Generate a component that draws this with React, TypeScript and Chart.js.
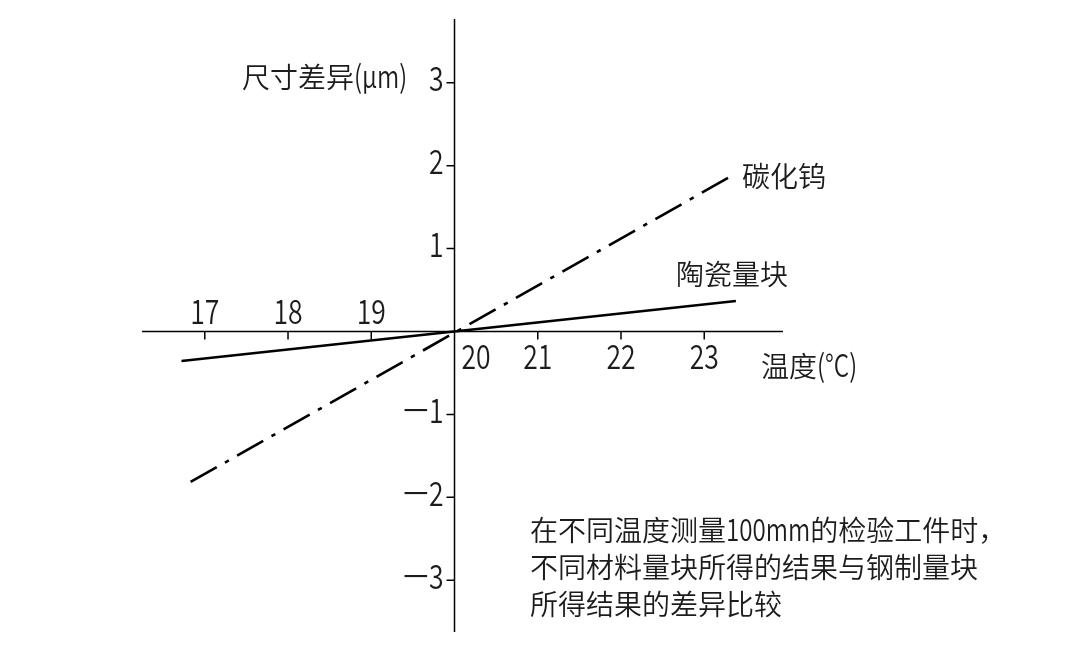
import React, { useEffect, useRef } from "react";
import { Chart, registerables } from "chart.js";

Chart.register(...registerables);

// ---- data ----
const temperatureTicks = [17, 18, 19, 20, 21, 22, 23];
const deviationTicks = [-3, -2, -1, 1, 2, 3];

const carbideName = "碳化钨";
const carbideTemps = [16.83, 23.29];
const carbideDiff = [-1.815, 1.855];

const ceramicName = "陶瓷量块";
const ceramicTemps = [16.72, 23.38];
const ceramicDiff = [-0.356, 0.368];

const yAxisTitle = "尺寸差异(μm)";
const xAxisTitle = "温度(°C)";
const captionLines = [
  "在不同温度测量100mm的检验工件时，",
  "不同材料量块所得的结果与钢制量块",
  "所得结果的差异比较",
];

const FONT = '"Noto Sans CJK SC", "Noto Sans", sans-serif';
const TEXT_COLOR = "#1c1c1c";

function drawMixed(
  ctx: CanvasRenderingContext2D,
  text: string,
  x: number,
  y: number,
  size: number,
  align: "left" | "center" | "right",
  latinSize: number = size
) {
  ctx.textAlign = "left";
  ctx.textBaseline = "alphabetic";
  ctx.fillStyle = TEXT_COLOR;
  const parts = Array.from(text).map((ch) => {
    const code = ch.codePointAt(0) || 0;
    const cjk = code >= 0x2e80;
    const s = ch === "−" ? 1.4 : cjk ? 1 : 0.78;
    const font = `350 ${cjk ? size : latinSize}px ${FONT}`;
    ctx.font = font;
    return { ch, s, font, w: ctx.measureText(ch).width * s };
  });
  const total = parts.reduce((a, p) => a + p.w, 0);
  let cx = align === "right" ? x - total : align === "center" ? x - total / 2 : x;
  for (const p of parts) {
    ctx.save();
    ctx.font = p.font;
    ctx.translate(cx, y);
    ctx.scale(p.s, 1);
    ctx.fillText(p.ch, 0, 0);
    ctx.restore();
    cx += p.w;
  }
}

const fmt = (v: number) => (v < 0 ? "−" + Math.abs(v) : String(v));

const axesPlugin = {
  id: "centerAxes",
  beforeDatasetsDraw(chart: any) {
    const { ctx, chartArea, scales } = chart;
    const xs = scales.x;
    const ys = scales.y;
    const x0 = xs.getPixelForValue(20);
    const y0 = ys.getPixelForValue(0);
    ctx.save();
    ctx.strokeStyle = "#000";
    ctx.lineWidth = 1.5;
    ctx.beginPath();
    ctx.moveTo(chartArea.left, y0);
    ctx.lineTo(chartArea.right, y0);
    ctx.moveTo(x0, chartArea.top);
    ctx.lineTo(x0, chartArea.bottom);
    for (const t of temperatureTicks) {
      if (t === 20) continue;
      const px = xs.getPixelForValue(t);
      ctx.moveTo(px, y0);
      ctx.lineTo(px, y0 + 8);
    }
    for (const t of deviationTicks) {
      const py = ys.getPixelForValue(t);
      ctx.moveTo(x0 - 8, py);
      ctx.lineTo(x0, py);
    }
    ctx.stroke();
    ctx.restore();
  },
  afterDraw(chart: any) {
    const { ctx, scales } = chart;
    const xs = scales.x;
    const ys = scales.y;
    const x0 = xs.getPixelForValue(20);
    const y0 = ys.getPixelForValue(0);
    ctx.save();
    for (const t of temperatureTicks) {
      const px = xs.getPixelForValue(t);
      if (t < 20) drawMixed(ctx, String(t), px, y0 - 7.5, 34, "center");
      else if (t === 20) drawMixed(ctx, String(t), px + 21.5, y0 + 37, 34, "center");
      else drawMixed(ctx, String(t), px, y0 + 37, 34, "center");
    }
    for (const t of deviationTicks) {
      const py = ys.getPixelForValue(t);
      drawMixed(ctx, fmt(t), x0 - 11, py + 8.5, 34, "right");
    }
    drawMixed(ctx, yAxisTitle, 242, 88, 28, "left", 31);
    drawMixed(ctx, xAxisTitle, 761, 377, 28, "left", 31);
    drawMixed(ctx, carbideName, 742, 187, 28, "left");
    drawMixed(ctx, ceramicName, 676, 284.5, 28, "left");
    captionLines.forEach((line, i) => {
      drawMixed(ctx, line, 530, 541 + i * 37, 28, "left", 31);
    });
    ctx.restore();
  },
};

export default function App() {
  const ref = useRef<HTMLCanvasElement | null>(null);
  useEffect(() => {
    if (!ref.current) return;
    const chart = new Chart(ref.current, {
      type: "scatter",
      data: {
        datasets: [
          {
            label: carbideName,
            data: carbideTemps.map((x, i) => ({ x, y: carbideDiff[i] })),
            showLine: true,
            borderColor: "#000",
            borderWidth: 2.6,
            borderDash: [30, 9.5, 4.4, 9.5],
            borderDashOffset: 0,
            pointRadius: 0,
            fill: false,
          },
          {
            label: ceramicName,
            data: ceramicTemps.map((x, i) => ({ x, y: ceramicDiff[i] })),
            showLine: true,
            borderColor: "#000",
            borderWidth: 2.6,
            pointRadius: 0,
            fill: false,
          },
        ],
      },
      options: {
        animation: false,
        responsive: false,
        events: [],
        layout: { padding: { left: 142, right: 304, top: 19, bottom: 22 } },
        plugins: {
          legend: { display: false },
          tooltip: { enabled: false },
        },
        scales: {
          x: { type: "linear", min: 16.246, max: 23.946, display: false },
          y: { type: "linear", min: -3.625, max: 3.77, display: false },
        },
      },
      plugins: [axesPlugin],
    } as any);
    return () => chart.destroy();
  }, []);
  return (
    <div style={{ position: "fixed", left: 0, top: 0, width: 1087, height: 654, background: "#fff" }}>
      <canvas ref={ref} width={1087} height={654} style={{ display: "block" }} />
    </div>
  );
}
